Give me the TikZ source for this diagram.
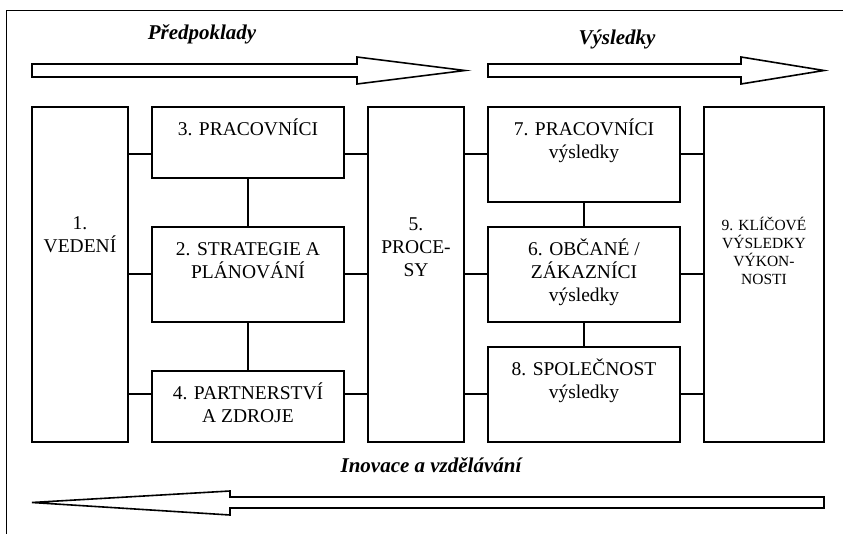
\documentclass[tikz,border=0pt]{standalone}
\usepackage{fontspec}
\setmainfont{Liberation Serif}
\begin{document}
\begin{tikzpicture}[x=1pt,y=-1pt,
  box/.style={draw,line width=1.6pt,inner sep=0pt,rectangle},
  txt/.style={anchor=base,align=center,inner sep=0pt,font=\fontsize{19.5}{23}\selectfont},
  smalltxt/.style={anchor=base,align=center,inner sep=0pt,font=\fontsize{15.5}{18}\selectfont},
  head/.style={anchor=base,inner sep=0pt,font=\fontsize{21}{24}\selectfont\bfseries\itshape},
  link/.style={line width=1.6pt},
  bigarrow/.style={draw,line width=1.6pt,line join=miter,fill=white}]
\useasboundingbox (0,0) rectangle (843,534);
% frame
\draw[line width=1.6pt] (6.5,534) -- (6.5,10.5) -- (843,10.5);
% headings
\node[head] (hpred) at (202,40) {Předpoklady};
\node[head] (hvys) at (617,45) {Výsledky};
\node[head] (hino) at (431,472) {Inovace a vzdělávání};
% big arrows
\draw[bigarrow] (32,64) -- (357,64) -- (357,57) -- (465,70.5) -- (357,84) -- (357,77) -- (32,77) -- cycle;
\draw[bigarrow] (488,64) -- (741,64) -- (741,57) -- (824,70.5) -- (741,84) -- (741,77) -- (488,77) -- cycle;
\draw[bigarrow] (824,497) -- (230,497) -- (230,491) -- (32,502.5) -- (230,515) -- (230,508) -- (824,508) -- cycle;
% boxes
\node[box,minimum width=96pt,minimum height=335pt] (b1) at (80,274.5) {};
\node[box,minimum width=192pt,minimum height=71pt] (b3) at (248,142.5) {};
\node[box,minimum width=192pt,minimum height=95pt] (b2) at (248,274.5) {};
\node[box,minimum width=192pt,minimum height=71pt] (b4) at (248,406.5) {};
\node[box,minimum width=96pt,minimum height=335pt] (b5) at (416,274.5) {};
\node[box,minimum width=192pt,minimum height=95pt] (b7) at (584,154.5) {};
\node[box,minimum width=192pt,minimum height=95pt] (b6) at (584,274.5) {};
\node[box,minimum width=192pt,minimum height=95pt] (b8) at (584,394.5) {};
\node[box,minimum width=120pt,minimum height=335pt] (b9) at (764,274.5) {};
% texts (anchor base = last line's baseline)
\node[txt] (t1) at (80,253) {1.\\VEDENÍ};
\node[txt] (t3) at (248,136) {3. PRACOVNÍCI};
\node[txt] (t2) at (248,279) {2. STRATEGIE A\\PLÁNOVÁNÍ};
\node[txt] (t4) at (248,422) {4. PARTNERSTVÍ\\A ZDROJE};
\node[txt] (t5) at (416,277) {5.\\PROCE-\\SY};
\node[txt] (t7) at (584,159) {7. PRACOVNÍCI\\výsledky};
\node[txt] (t6) at (584,302) {6. OBČANÉ /\\ZÁKAZNÍCI\\výsledky};
\node[txt] (t8) at (584,398) {8. SPOLEČNOST\\výsledky};
\node[smalltxt] (t9) at (764,285) {9. KLÍČOVÉ\\VÝSLEDKY\\VÝKON-\\NOSTI};
% row coordinates
\coordinate (r1) at (0,154);
\coordinate (r2) at (0,274);
\coordinate (r3) at (0,394);
% horizontal connectors
\draw[link] (b1.east |- r1) -- (b3.west |- r1);
\draw[link] (b1.east |- r2) -- (b2.west |- r2);
\draw[link] (b1.east |- r3) -- (b4.west |- r3);
\draw[link] (b3.east |- r1) -- (b5.west |- r1);
\draw[link] (b2.east |- r2) -- (b5.west |- r2);
\draw[link] (b4.east |- r3) -- (b5.west |- r3);
\draw[link] (b5.east |- r1) -- (b7.west |- r1);
\draw[link] (b5.east |- r2) -- (b6.west |- r2);
\draw[link] (b5.east |- r3) -- (b8.west |- r3);
\draw[link] (b7.east |- r1) -- (b9.west |- r1);
\draw[link] (b6.east |- r2) -- (b9.west |- r2);
\draw[link] (b8.east |- r3) -- (b9.west |- r3);
% vertical connectors
\draw[link] (b3.south) -- (b2.north);
\draw[link] (b2.south) -- (b4.north);
\draw[link] (b7.south) -- (b6.north);
\draw[link] (b6.south) -- (b8.north);
\end{tikzpicture}
\end{document}
